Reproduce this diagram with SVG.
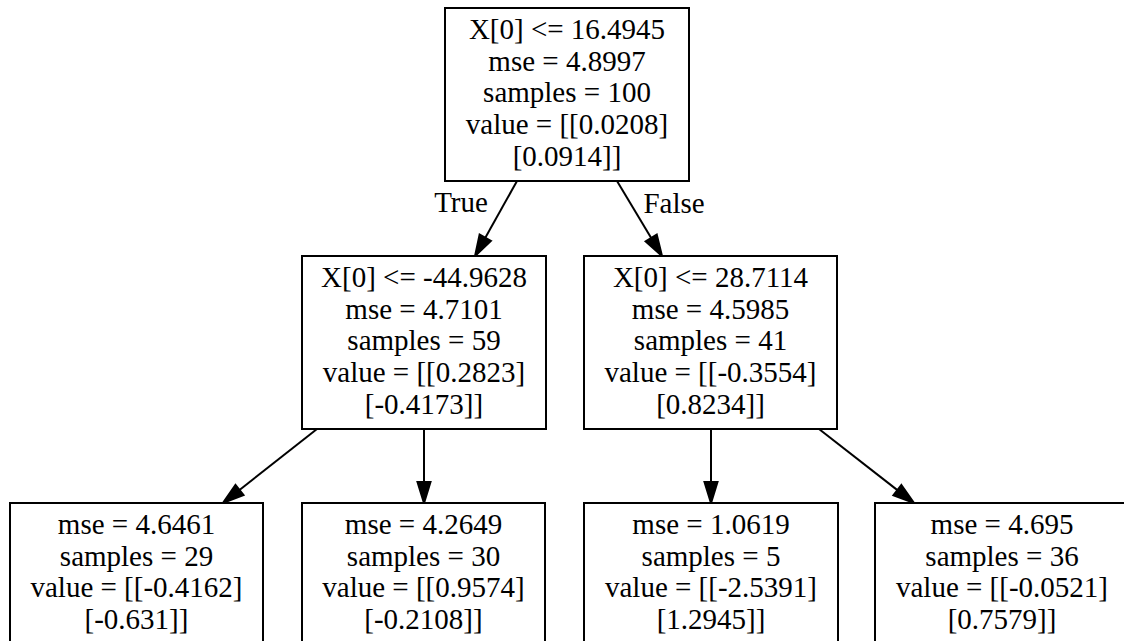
<svg xmlns="http://www.w3.org/2000/svg" width="1124" height="641" viewBox="0 0 1124 641">
<style>
.box{fill:#fff;stroke:#000;stroke-width:2}
.t{font-family:"Liberation Serif","Times New Roman",serif;font-size:29px;fill:#000;text-anchor:middle}
.e{stroke:#000;stroke-width:2;fill:none}
</style>
<defs>
<marker id="ah" markerUnits="userSpaceOnUse" markerWidth="24" markerHeight="16" refX="0" refY="7.5" orient="auto" overflow="visible">
<path d="M0,1 L21,7.5 L0,14 z" fill="#000" stroke="#000" stroke-width="2"/>
</marker>
</defs>
<rect width="1124" height="641" fill="#fff"/>
<g id="connectors">
<line class="e" x1="517" y1="181" x2="485.3" y2="237.7" marker-end="url(#ah)"/>
<line class="e" x1="617" y1="181" x2="651.2" y2="238" marker-end="url(#ah)"/>
<line class="e" x1="317" y1="429" x2="239.5" y2="490" marker-end="url(#ah)"/>
<line class="e" x1="424" y1="429" x2="424" y2="482" marker-end="url(#ah)"/>
<line class="e" x1="711" y1="429" x2="711" y2="482" marker-end="url(#ah)"/>
<line class="e" x1="819" y1="429" x2="897.4" y2="490.1" marker-end="url(#ah)"/>
<text class="t" x="461" y="212">True</text>
<text class="t" x="674" y="213">False</text>
</g>
<g id="node0">
<rect class="box" x="445" y="8" width="244" height="173"/>
<text class="t" x="567" y="39">X[0] &lt;= 16.4945</text>
<text class="t" x="567" y="71">mse = 4.8997</text>
<text class="t" x="567" y="102">samples = 100</text>
<text class="t" x="567" y="134">value = [[0.0208]</text>
<text class="t" x="567" y="166">[0.0914]]</text>
</g>
<g id="node1">
<rect class="box" x="302" y="256" width="244" height="173"/>
<text class="t" x="424" y="287">X[0] &lt;= -44.9628</text>
<text class="t" x="424" y="319">mse = 4.7101</text>
<text class="t" x="424" y="350">samples = 59</text>
<text class="t" x="424" y="382">value = [[0.2823]</text>
<text class="t" x="424" y="414">[-0.4173]]</text>
</g>
<g id="node4">
<rect class="box" x="584" y="256" width="253" height="173"/>
<text class="t" x="710.5" y="287">X[0] &lt;= 28.7114</text>
<text class="t" x="710.5" y="319">mse = 4.5985</text>
<text class="t" x="710.5" y="350">samples = 41</text>
<text class="t" x="710.5" y="382">value = [[-0.3554]</text>
<text class="t" x="710.5" y="414">[0.8234]]</text>
</g>
<g id="node2">
<rect class="box" x="10" y="503" width="253" height="150"/>
<text class="t" x="136.5" y="534">mse = 4.6461</text>
<text class="t" x="136.5" y="566">samples = 29</text>
<text class="t" x="136.5" y="597">value = [[-0.4162]</text>
<text class="t" x="136.5" y="629">[-0.631]]</text>
</g>
<g id="node3">
<rect class="box" x="302" y="503" width="243" height="150"/>
<text class="t" x="423.5" y="534">mse = 4.2649</text>
<text class="t" x="423.5" y="566">samples = 30</text>
<text class="t" x="423.5" y="597">value = [[0.9574]</text>
<text class="t" x="423.5" y="629">[-0.2108]]</text>
</g>
<g id="node5">
<rect class="box" x="584" y="503" width="254" height="150"/>
<text class="t" x="711" y="534">mse = 1.0619</text>
<text class="t" x="711" y="566">samples = 5</text>
<text class="t" x="711" y="597">value = [[-2.5391]</text>
<text class="t" x="711" y="629">[1.2945]]</text>
</g>
<g id="node6">
<rect class="box" x="875" y="503" width="254" height="150"/>
<text class="t" x="1002" y="534">mse = 4.695</text>
<text class="t" x="1002" y="566">samples = 36</text>
<text class="t" x="1002" y="597">value = [[-0.0521]</text>
<text class="t" x="1002" y="629">[0.7579]]</text>
</g>
</svg>
